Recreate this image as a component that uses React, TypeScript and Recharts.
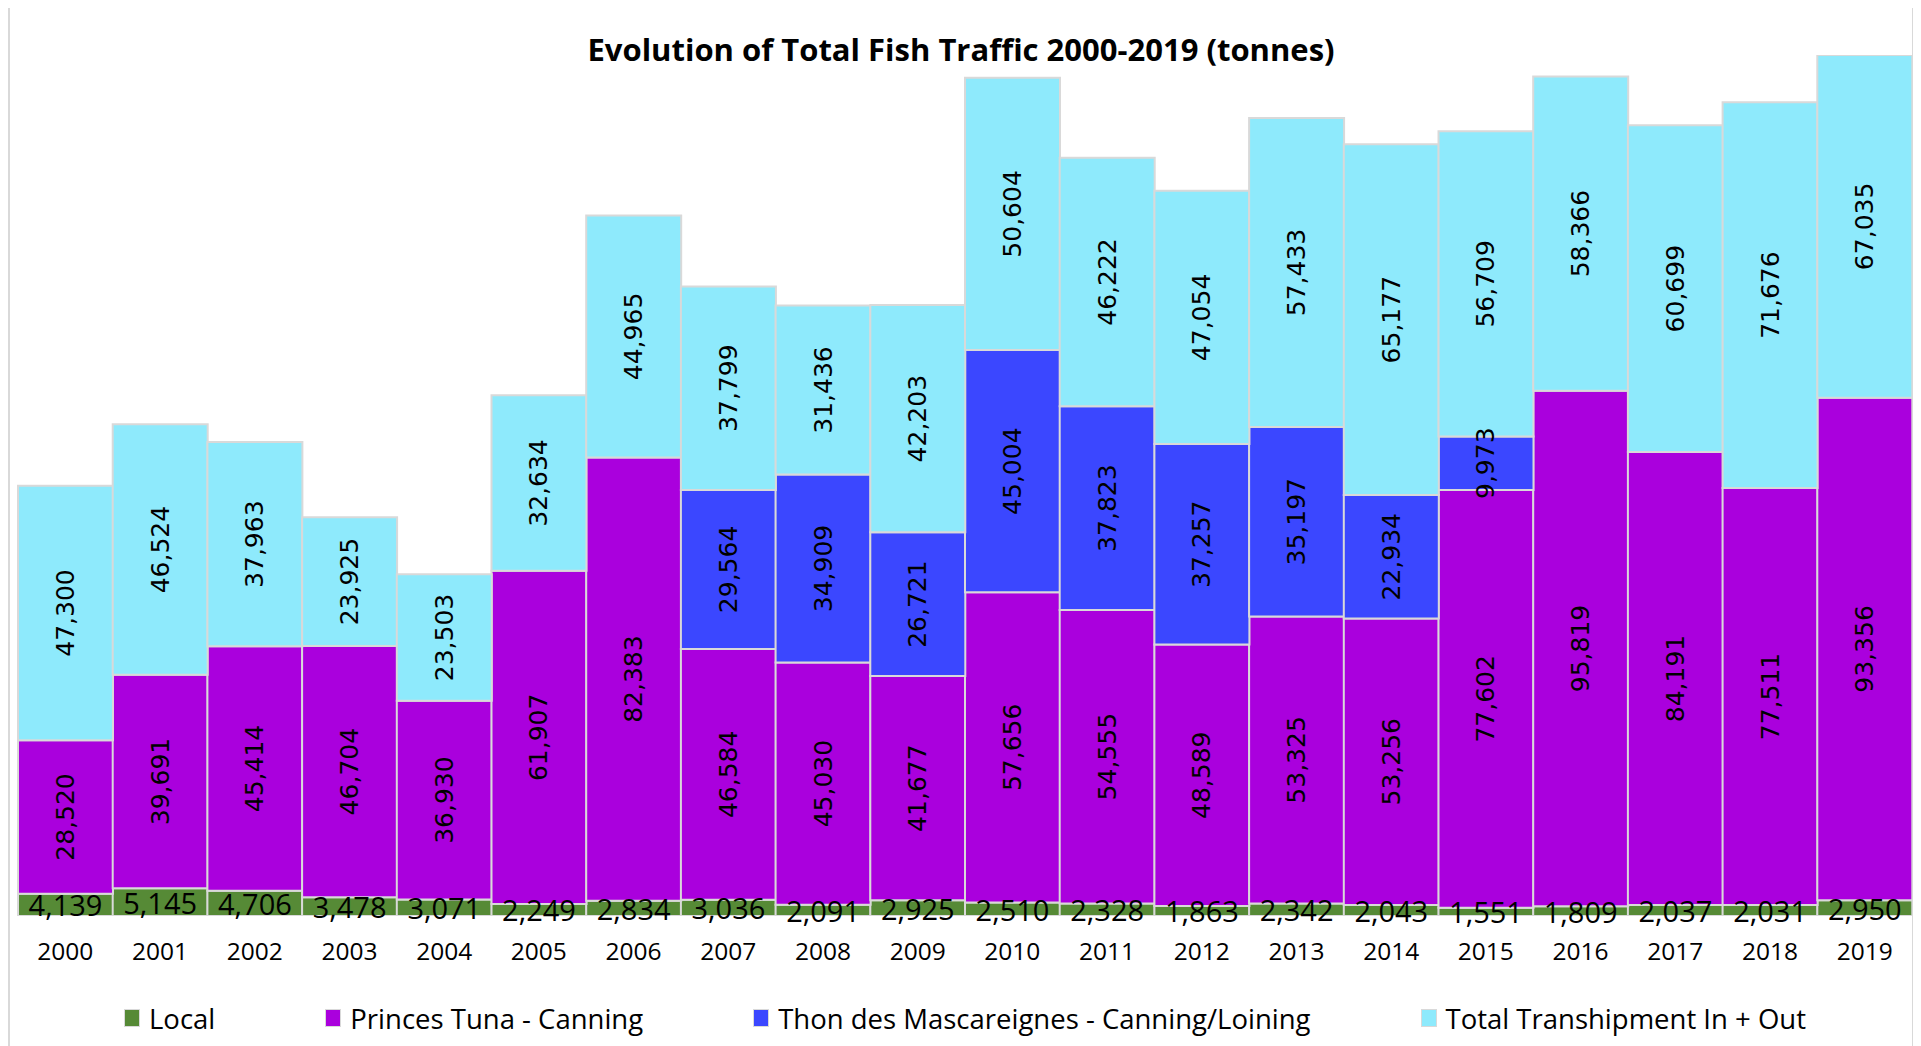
import { BarChart, Bar, XAxis, YAxis, Legend, LabelList } from "recharts";

const years = [
  "2000", "2001", "2002", "2003", "2004", "2005", "2006", "2007", "2008", "2009",
  "2010", "2011", "2012", "2013", "2014", "2015", "2016", "2017", "2018", "2019",
];
const local = [
  4139, 5145, 4706, 3478, 3071, 2249, 2834, 3036, 2091, 2925,
  2510, 2328, 1863, 2342, 2043, 1551, 1809, 2037, 2031, 2950,
];
const princesTuna = [
  28520, 39691, 45414, 46704, 36930, 61907, 82383, 46584, 45030, 41677,
  57656, 54555, 48589, 53325, 53256, 77602, 95819, 84191, 77511, 93356,
];
const thonMascareignes = [
  0, 0, 0, 0, 0, 0, 0, 29564, 34909, 26721,
  45004, 37823, 37257, 35197, 22934, 9973, 0, 0, 0, 0,
];
const transhipment = [
  47300, 46524, 37963, 23925, 23503, 32634, 44965, 37799, 31436, 42203,
  50604, 46222, 47054, 57433, 65177, 56709, 58366, 60699, 71676, 67035,
];

const series = [
  { key: "local", name: "Local", color: "#568A36" },
  { key: "princes", name: "Princes Tuna - Canning", color: "#AA00DD" },
  { key: "thon", name: "Thon des Mascareignes - Canning/Loining", color: "#3B47FF" },
  { key: "tranship", name: "Total Transhipment In + Out", color: "#8EEAFC" },
];

const data = years.map((year, i) => ({
  year,
  local: local[i],
  princes: princesTuna[i],
  thon: thonMascareignes[i],
  tranship: transhipment[i],
}));

const W = 1902;
const H = 1038;
const TOP = 47;
const fmt = (v: number) => v.toLocaleString("en-US");

// vertical labels inside the stacked segments
const RotatedLabel = (props: any) => {
  const { x, y, width, height, value } = props;
  if (!value) return null;
  const top = Math.max(y, TOP);
  const cx = x + width / 2;
  const cy = (top + y + height) / 2;
  return (
    <text
      x={cx}
      y={cy}
      transform={`rotate(-90 ${cx} ${cy})`}
      textAnchor="middle"
      dominantBaseline="central"
      fontFamily="DejaVu Sans"
      fontSize={25}
      fill="#000"
    >
      {fmt(value)}
    </text>
  );
};

const LocalLabel = (props: any) => {
  const { x, y, width, height, value } = props;
  return (
    <text
      x={x + width / 2}
      y={y + height / 2}
      textAnchor="middle"
      dominantBaseline="central"
      fontFamily="Open Sans"
      fontSize={29}
      fill="#000"
    >
      {fmt(value)}
    </text>
  );
};

const renderLegend = () => (
  <div
    style={{
      display: "flex",
      justifyContent: "center",
      alignItems: "center",
      gap: 110,
      height: 40,
      fontFamily: "Open Sans",
      fontSize: 27.5,
      color: "#000",
    }}
  >
    {series.map((s) => (
      <div key={s.key} style={{ display: "flex", alignItems: "center", gap: 9 }}>
        <span
          style={{
            width: 16,
            height: 18,
            boxSizing: "border-box",
            background: s.color,
            border: "1px solid #d9d9d9",
            display: "inline-block",
          }}
        />
        <span>{s.name}</span>
      </div>
    ))}
  </div>
);

export default function App() {
  return (
    <div
      style={{
        position: "relative",
        marginTop: -2,
        width: W + 4,
        height: H + 2,
        boxSizing: "border-box",
        border: "2px solid #d9d9d9",
        borderBottom: "none",
        background: "#fff",
      }}
    >
      <div
        style={{
          position: "absolute",
          top: 22,
          left: 0,
          width: W,
          textAlign: "center",
          fontFamily: "Open Sans",
          fontWeight: 700,
          fontSize: 31,
          lineHeight: "38px",
          color: "#000",
          zIndex: 1,
        }}
      >
        Evolution of Total Fish Traffic 2000-2019 (tonnes)
      </div>
      <BarChart
        width={W}
        height={H}
        data={data}
        margin={{ top: TOP, right: 0, bottom: 8, left: 8 }}
        barCategoryGap={0}
      >
        <XAxis
          dataKey="year"
          axisLine={false}
          tickLine={false}
          tickSize={0}
          tickMargin={27}
          height={82}
          interval={0}
          tick={{ fontFamily: "Open Sans", fontSize: 24.5, fill: "#000" }}
        />
        <YAxis hide domain={[0, 160000]} allowDataOverflow />
        <Legend verticalAlign="bottom" height={40} content={renderLegend} />
        {series.map((s) => (
          <Bar
            key={s.key}
            dataKey={s.key}
            name={s.name}
            stackId="a"
            fill={s.color}
            stroke="#d9d9d9"
            strokeWidth={2}
            isAnimationActive={false}
          >
            <LabelList
              dataKey={s.key}
              content={s.key === "local" ? LocalLabel : RotatedLabel}
            />
          </Bar>
        ))}
      </BarChart>
    </div>
  );
}
